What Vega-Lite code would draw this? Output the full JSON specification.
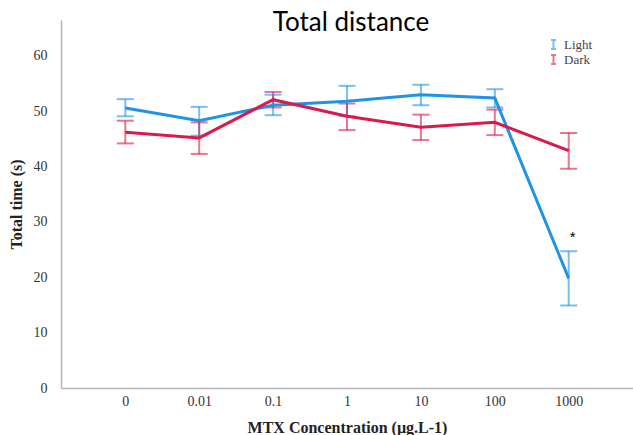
{
  "$schema": "https://vega.github.io/schema/vega-lite/v6.json",
  "width": 572,
  "height": 368,
  "autosize": "none",
  "padding": {"left": 61, "top": 20, "right": 0, "bottom": 47},
  "background": "white",
  "title": {"text": "Total distance", "font": "Lato", "fontSize": 26, "fontWeight": "normal", "color": "#000000", "anchor": "middle", "baseline": "top", "offset": -16, "dx": 4},
  "config": {"view": {"stroke": null}},
  "data": {"values": [
    {"conc": "0", "group": "Light", "mean": 50.6, "lo": 49.1, "hi": 52.2},
    {"conc": "0.01", "group": "Light", "mean": 48.3, "lo": 45.6, "hi": 50.8},
    {"conc": "0.1", "group": "Light", "mean": 51.1, "lo": 49.3, "hi": 53.0},
    {"conc": "1", "group": "Light", "mean": 51.8, "lo": 49.1, "hi": 54.6},
    {"conc": "10", "group": "Light", "mean": 53.0, "lo": 51.1, "hi": 54.8},
    {"conc": "100", "group": "Light", "mean": 52.4, "lo": 50.7, "hi": 54.0},
    {"conc": "1000", "group": "Light", "mean": 19.8, "lo": 14.9, "hi": 24.7},
    {"conc": "0", "group": "Dark", "mean": 46.2, "lo": 44.2, "hi": 48.3},
    {"conc": "0.01", "group": "Dark", "mean": 45.2, "lo": 42.3, "hi": 48.0},
    {"conc": "0.1", "group": "Dark", "mean": 52.1, "lo": 50.7, "hi": 53.5},
    {"conc": "1", "group": "Dark", "mean": 49.1, "lo": 46.6, "hi": 51.4},
    {"conc": "10", "group": "Dark", "mean": 47.1, "lo": 44.8, "hi": 49.4},
    {"conc": "100", "group": "Dark", "mean": 48.0, "lo": 45.7, "hi": 50.3},
    {"conc": "1000", "group": "Dark", "mean": 42.9, "lo": 39.6, "hi": 46.1}
  ]},
  "encoding": {
    "x": {"field": "conc", "type": "ordinal", "sort": ["0", "0.01", "0.1", "1", "10", "100", "1000"],
      "scale": {"type": "point", "padding": 0.87},
      "axis": {"title": "MTX Concentration (µg.L-1)", "titleFont": "Liberation Serif", "titleFontSize": 16, "titleFontWeight": "bold", "titleColor": "#222222", "titlePadding": 11,
        "labelFont": "Liberation Serif", "labelFontSize": 14, "labelColor": "#333333", "labelPadding": 6, "labelAngle": 0,
        "ticks": false, "domainColor": "#b5b5b5", "domainWidth": 1.5, "grid": false}},
    "color": {"field": "group", "type": "nominal", "scale": {"domain": ["Light", "Dark"], "range": ["#1f93e6", "#d81b4a"]},
      "legend": {"title": null, "orient": "none", "legendX": 486, "legendY": 18, "symbolType": "M0,-1V1M-0.55,-1H0.55M-0.55,1H0.55", "symbolSize": 80, "symbolStrokeWidth": 2, "symbolFillColor": "transparent", "labelFont": "Liberation Serif", "labelFontSize": 13, "labelColor": "#444444", "rowPadding": -4, "labelOffset": 4}}
  },
  "layer": [
    {"mark": {"type": "rule", "strokeWidth": 2, "opacity": 0.6},
      "encoding": {"y": {"field": "lo", "type": "quantitative"}, "y2": {"field": "hi"}}},
    {"mark": {"type": "tick", "thickness": 2, "size": 17, "opacity": 0.6},
      "encoding": {"y": {"field": "lo", "type": "quantitative"}}},
    {"mark": {"type": "tick", "thickness": 2, "size": 17, "opacity": 0.6},
      "encoding": {"y": {"field": "hi", "type": "quantitative"}}},
    {"mark": {"type": "line", "strokeWidth": 3},
      "encoding": {"y": {"field": "mean", "type": "quantitative",
        "scale": {"domain": [0, 66.5], "nice": false},
        "axis": {"title": "Total time (s)", "titleFont": "Liberation Serif", "titleFontSize": 16, "titleFontWeight": "bold", "titleColor": "#222222", "titlePadding": 9,
          "labelFont": "Liberation Serif", "labelFontSize": 14, "labelColor": "#333333", "labelPadding": 14,
          "values": [0, 10, 20, 30, 40, 50, 60], "ticks": false, "domainColor": "#b5b5b5", "domainWidth": 1.5, "grid": false}}}},
    {"data": {"values": [{"conc": "1000", "y": 27.3, "label": "*"}]},
      "mark": {"type": "text", "font": "Liberation Sans", "fontSize": 15, "color": "#000000", "dx": 4},
      "encoding": {"y": {"field": "y", "type": "quantitative"}, "text": {"field": "label"}, "color": {"value": "#000000"}}}
  ]
}
